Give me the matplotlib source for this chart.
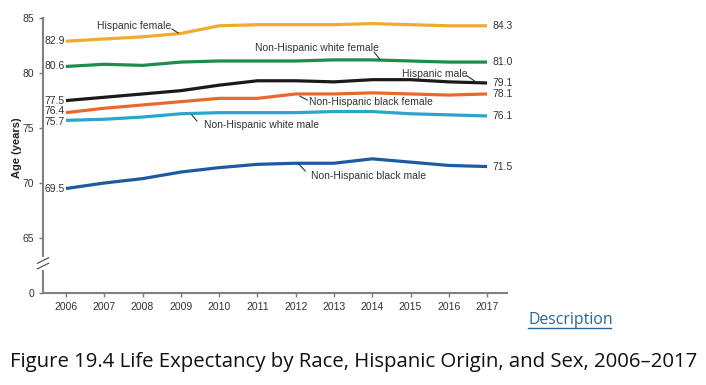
import matplotlib.pyplot as plt

# data
years = list(range(2006, 2018))

hisp_female = [82.9, 83.1, 83.3, 83.6, 84.3, 84.4, 84.4, 84.4, 84.5, 84.4, 84.3, 84.3]
nhw_female = [80.6, 80.8, 80.7, 81.0, 81.1, 81.1, 81.1, 81.2, 81.2, 81.1, 81.0, 81.0]
hisp_male = [77.5, 77.8, 78.1, 78.4, 78.9, 79.3, 79.3, 79.2, 79.4, 79.4, 79.2, 79.1]
nhb_female = [76.4, 76.8, 77.1, 77.4, 77.7, 77.7, 78.1, 78.1, 78.2, 78.1, 78.0, 78.1]
nhw_male = [75.7, 75.8, 76.0, 76.3, 76.4, 76.4, 76.4, 76.5, 76.5, 76.3, 76.2, 76.1]
nhb_male = [69.5, 70.0, 70.4, 71.0, 71.4, 71.7, 71.8, 71.8, 72.2, 71.9, 71.6, 71.5]

series = [hisp_female, nhw_female, hisp_male, nhb_female, nhw_male, nhb_male]
names = ["Hispanic female", "Non-Hispanic white female", "Hispanic male",
         "Non-Hispanic black female", "Non-Hispanic white male", "Non-Hispanic black male"]
colors = ["#F0AA2E", "#1E8C4A", "#1A1A1A", "#E8692E", "#2BA5CC", "#1E5AA0"]

plt.rcParams["font.family"] = ["Liberation Sans", "DejaVu Sans"]

fig = plt.figure(figsize=(7.06, 3.85), dpi=100)
ax = fig.add_axes([43 / 706, 0.239, (507 - 43) / 706, 0.714])

for vals, c in zip(series, colors):
    ax.plot(years, vals, color=c, lw=2.3, solid_capstyle="butt")

txt = "#333333"
# start / end value labels (small nudges where they crowd)
start_offsets = [0.0, 0.0, 0.0, 0.12, -0.12, 0.0]
for vals, off in zip(series, start_offsets):
    ax.text(2005.45, vals[0] + off, f"{vals[0]:.1f}", fontsize=7.5, color=txt,
            ha="left", va="center")
    ax.text(2017.15, vals[-1], f"{vals[-1]:.1f}", fontsize=7.5, color=txt,
            ha="left", va="center")

# series labels with leader lines (text pos, line start, line end)
labels = [
    (names[0], 2006.8, 84.3, (2008.77, 84.0), (2008.93, 83.65)),
    (names[1], 2010.95, 82.25, (2014.05, 81.9), (2014.2, 81.25)),
    (names[2], 2014.78, 79.9, (2016.45, 79.8), (2016.71, 79.2)),
    (names[3], 2012.35, 77.35, (2012.11, 77.9), (2012.3, 77.55)),
    (names[4], 2009.6, 75.27, (2009.29, 76.18), (2009.42, 75.64)),
    (names[5], 2012.4, 70.6, (2012.06, 71.8), (2012.25, 71.1)),
]
for name, tx, ty, p0, p1 in labels:
    ax.text(tx, ty, name, fontsize=7.5, color=txt, ha="left", va="center")
    ax.plot([p0[0], p1[0]], [p0[1], p1[1]], color=txt, lw=0.8)

ax.set_xlim(2005.4, 2017.52)
ax.set_ylim(60, 85)
ax.set_xticks(years)
ax.set_xticklabels([str(y) for y in years])
ax.set_yticks([60, 65, 70, 75, 80, 85])
ax.set_yticklabels(["0", "65", "70", "75", "80", "85"])
ax.tick_params(labelsize=7.5, colors="#777777", labelcolor=txt, length=3, width=1)

for s in ["top", "right"]:
    ax.spines[s].set_visible(False)
for s in ["left", "bottom"]:
    ax.spines[s].set_color("#808080")
    ax.spines[s].set_linewidth(1.5)

# axis break marks
ax.plot([0.0, 0.0], [62.3, 63.1], transform=ax.get_yaxis_transform(), color="white",
        lw=3, clip_on=False, zorder=5)
for yb in (62.45, 62.95):
    ax.plot([-0.012, 0.012], [yb - 0.25, yb + 0.25], transform=ax.get_yaxis_transform(),
            color="#555555", lw=0.9, clip_on=False, zorder=6)

ax.set_ylabel("Age (years)", fontsize=8, fontweight="bold", color="#222222")
ax.yaxis.set_label_coords(-0.045, 0.53)

fig.text(528 / 706, 1 - 320 / 385, "Description", fontsize=11.4, color="#2A6496",
         family="Open Sans", ha="left", va="center")
fig.add_artist(plt.Line2D([528 / 706, 611 / 706], [1 - 328 / 385, 1 - 328 / 385],
                          color="#2A6496", lw=1))
fig.text(10 / 706, 1 - 362 / 385,
         "Figure 19.4 Life Expectancy by Race, Hispanic Origin, and Sex, 2006\u20132017",
         fontsize=14.7, color="#111111", family="Open Sans", ha="left", va="center")

fig.savefig("out.png", dpi=100)
